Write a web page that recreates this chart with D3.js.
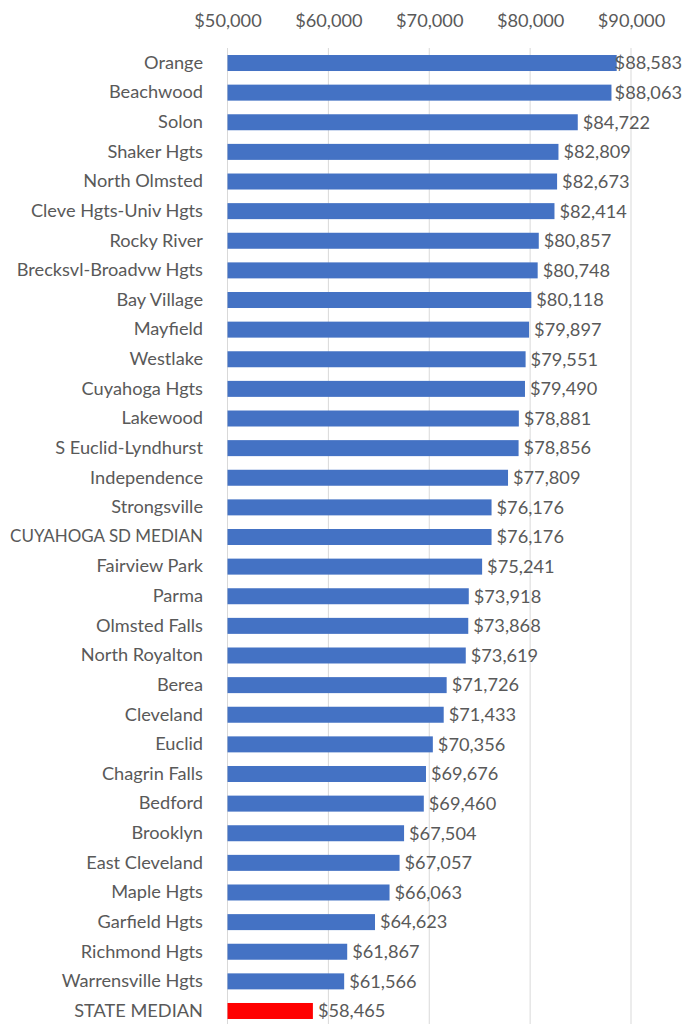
<!DOCTYPE html>
<html><head><meta charset="utf-8">
<script src="https://cdn.jsdelivr.net/npm/d3@7"></script>
<style>body{margin:0;background:#fff}svg{display:block}text{font-family:Lato,"Open Sans",sans-serif}</style>
</head><body>
<script>
const categories = ["Orange","Beachwood","Solon","Shaker Hgts","North Olmsted","Cleve Hgts-Univ Hgts","Rocky River","Brecksvl-Broadvw Hgts","Bay Village","Mayfield","Westlake","Cuyahoga Hgts","Lakewood","S Euclid-Lyndhurst","Independence","Strongsville","CUYAHOGA SD MEDIAN","Fairview Park","Parma","Olmsted Falls","North Royalton","Berea","Cleveland","Euclid","Chagrin Falls","Bedford","Brooklyn","East Cleveland","Maple Hgts","Garfield Hgts","Richmond Hgts","Warrensville Hgts","STATE MEDIAN"];
const values = [88583,88063,84722,82809,82673,82414,80857,80748,80118,79897,79551,79490,78881,78856,77809,76176,76176,75241,73918,73868,73619,71726,71433,70356,69676,69460,67504,67057,66063,64623,61867,61566,58465];
const tickValues = [50000,60000,70000,80000,90000];
const highlight = "STATE MEDIAN";

const W = 682, H = 1024;
const FS = 18.2;
const svg = d3.select("body").append("svg").attr("width", W).attr("height", H);
const x = d3.scaleLinear().domain([50000, 90000]).range([227.5, 631]);
const y = d3.scaleBand().domain(categories).range([48.2, 1025.8]).paddingInner(0.46).paddingOuter(0.23);

const fmt = v => "$" + d3.format(",")(v);

// gridlines
svg.append("g").selectAll("line").data(tickValues).join("line")
  .attr("x1", d => x(d)).attr("x2", d => x(d))
  .attr("y1", 48).attr("y2", H)
  .attr("stroke", "#d9d9d9").attr("stroke-width", 1);

// top axis
const ax = svg.append("g").attr("transform", "translate(0,27)")
  .call(d3.axisTop(x).tickValues(tickValues).tickFormat(fmt).tickSize(0).tickPadding(0));
ax.select(".domain").remove();
ax.selectAll("text").attr("font-size", FS).attr("fill", "#595959").attr("font-family", "Lato,'Open Sans',sans-serif");

// bars
svg.append("g").selectAll("rect").data(categories).join("rect")
  .attr("x", x(50000))
  .attr("y", d => y(d))
  .attr("width", (d, i) => x(values[i]) - x(50000))
  .attr("height", y.bandwidth())
  .attr("fill", d => d === highlight ? "#ff0000" : "#4472c4");

// category labels
const yAx = svg.append("g").attr("transform", "translate(" + x(50000) + ",0)")
  .call(d3.axisLeft(y).tickSize(0).tickPadding(24.5));
yAx.select(".domain").remove();
yAx.selectAll("text").attr("font-size", FS).attr("fill", "#595959").attr("font-family", "Lato,'Open Sans',sans-serif")
  .each(function() {
    const maxW = 193;
    const w = this.getComputedTextLength();
    if (w > maxW) d3.select(this).attr("font-size", FS * maxW / w);
  });

// value labels
const vl = svg.append("g").selectAll("text").data(categories).join("text")
  .attr("y", d => y(d) + y.bandwidth() / 2)
  .attr("dy", "0.35em")
  .attr("font-size", FS).attr("fill", "#595959")
  .text((d, i) => fmt(values[i]));
vl.each(function(d, i) {
  const w = this.getComputedTextLength();
  const px = Math.min(x(values[i]) + 5, W - w);
  d3.select(this).attr("x", px);
});
</script>
</body></html>
